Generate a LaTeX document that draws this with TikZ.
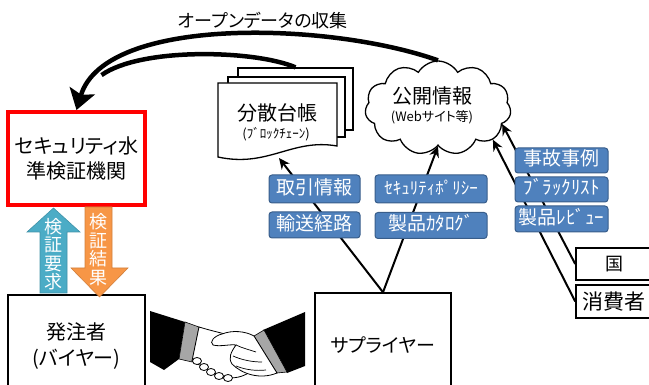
\documentclass[tikz,border=0pt]{standalone}
\usepackage{fontspec}
\setmainfont{Noto Sans CJK JP}[RawFeature=+palt]
\usetikzlibrary{shapes.symbols,arrows.meta}
\definecolor{boxblue}{HTML}{4F81BD}
\definecolor{boxedge}{HTML}{385D8A}
\definecolor{reqteal}{HTML}{4BACC6}
\definecolor{resorange}{HTML}{F79646}
\definecolor{cuffgray}{HTML}{A6A6A6}
\definecolor{alertred}{HTML}{FF0000}
\pgfdeclarelayer{background}
\pgfsetlayers{background,main}
\newcommand{\fs}[1]{\fontsize{#1}{#1}\selectfont}
\tikzset{
  tag/.style={draw=boxedge, fill=boxblue, line width=1pt, rounded corners=3pt,
    text=white, inner sep=0pt, text height=14pt, text depth=3pt, font=\fs{19}},
  plainbox/.style={draw=black, line width=1.5pt, fill=white, inner sep=0pt},
  sheet/.style={draw=black, line width=1.3pt, fill=white, inner sep=0pt},
  link/.style={line width=2pt, -{Stealth[length=11pt,width=10pt]}},
  bigarrow/.style={line width=4.5pt, -{Stealth[length=20pt,width=26pt,inset=4pt]}},
  label/.style={inner sep=0pt},
}
\begin{document}
\begin{tikzpicture}[x=1pt,y=-1pt]
\useasboundingbox (0,0) rectangle (649,385);

% title of the collection arrow
\node[label, font=\fs{18}] (title) at (263,21) {オープンデータの収集};

% verification body
\node[draw=alertred, line width=4pt, fill=white, minimum width=137pt, minimum height=93pt,
  align=center, font=\fs{20}, inner sep=0pt] (sec) at (76.5,158.5)
  {セキュリティ水\\[5pt]準検証機関};

% buyer and supplier
\node[plainbox, minimum width=137pt, minimum height=102pt, align=center, font=\fs{20}]
  (buyer) at (76.5,346) {発注者\\[6pt](バイヤー)};
\node[plainbox, minimum width=136pt, minimum height=104pt, font=\fs{19}]
  (supplier) at (383,345) {サプライヤー};

% state and consumer
\node[plainbox, minimum width=76pt, minimum height=32pt, font=\fs{18}] (country) at (614,264) {国};
\node[plainbox, minimum width=76pt, minimum height=33pt, font=\fs{21}] (consumer) at (614,301.5) {消費者};

% distributed ledger: stacked sheets
\node[sheet, minimum width=115pt, minimum height=62pt] (doc3) at (295.5,99) {};
\node[sheet, minimum width=117pt, minimum height=60pt] (doc2) at (286.5,107) {};
\filldraw[sheet] (218,83) -- (337,83) -- (337,146)
  .. controls (292,138) and (268,168) .. (218,157) -- cycle;
\node[label, font=\fs{20}] (ledger) at (277,113) {分散台帳};
\node[label, font=\fs{13}] (ledgersub) at (276,134) {(ﾌﾞﾛｯｸﾁｪｰﾝ)};
\coordinate (ledgerfoot) at (279,158);

% public information cloud
\node[cloud, draw=black, line width=1.3pt, fill=white, cloud puffs=11, cloud puff arc=120,
  aspect=1.55, minimum width=146pt, minimum height=94pt, inner sep=0pt] (cloud) at (438,108) {};
\node[label, font=\fs{20}] (cloudtitle) at (432,96) {公開情報};
\node[label, font=\fs{13}] (cloudsub) at (432,117) {(Webサイト等)};

% information tags
\node[tag, minimum width=91pt, minimum height=28pt] (trade) at (314.5,189) {取引情報};
\node[tag, minimum width=91pt, minimum height=26pt] (route) at (314.5,225) {輸送経路};
\node[tag, minimum width=112pt, minimum height=28pt, font=\fs{17}] (policy) at (431,189) {ｾｷｭﾘﾃｨﾎﾟﾘｼｰ};
\node[tag, minimum width=112pt, minimum height=26pt] (catalog) at (431,225.5) {製品ｶﾀﾛｸﾞ};
\node[tag, minimum width=93pt, minimum height=25pt] (accident) at (561.5,160.5) {事故事例};
\node[tag, minimum width=93pt, minimum height=25pt] (blacklist) at (561.5,189.5) {ﾌﾞﾗｯｸﾘｽﾄ};
\node[tag, minimum width=93pt, minimum height=26pt] (review) at (561.5,219) {製品ﾚﾋﾞｭｰ};

% connectors running behind the tags
\begin{pgfonlayer}{background}
  \draw[link] (supplier.north) -- (ledgerfoot);
  \draw[link] (supplier.north) -- (cloud.south);
  \draw[link] (consumer.west) -- (cloud.-30);
  \draw[link] (country.west) -- (cloud.-14);
\end{pgfonlayer}

% open data collection arrow
\draw[bigarrow] (cloud.north) .. controls (330,22) and (105,15) .. (sec.north);
\draw[line width=4.5pt] (doc3.north) .. controls (255,50) and (141,47) .. (101.5,75.1);

% request / result block arrows
\filldraw[fill=reqteal, draw=reqteal!85!black, line width=0.6pt]
  (53.5,208) -- (80,232) -- (67,232) -- (67,293) -- (40,293) -- (40,232) -- (27,232) -- cycle;
\filldraw[fill=resorange, draw=resorange!85!black, line width=0.6pt]
  (85,207) -- (112,207) -- (112,268) -- (128,268) -- (99.5,297) -- (71,268) -- (85,268) -- cycle;
\node[label, align=center, text=white, font=\fontsize{18}{18.5}\selectfont] (req) at (53.5,254) {検\\証\\要\\求};
\node[label, align=center, text=white, font=\fontsize{18}{18.5}\selectfont] (res) at (98.5,249.5) {検\\証\\結\\果};

% handshake
\fill[black] (150,311) -- (185,322) -- (179,359) -- (164,370) -- (150,362) -- cycle;
\filldraw[fill=cuffgray, draw=black, line width=0.6pt] (185,322) -- (199,327) -- (192,362) -- (179,359) -- cycle;
\filldraw[fill=white, draw=black, line width=0.8pt]
  (199,327) .. controls (212,331) and (226,334) .. (240,338) -- (250,372)
  .. controls (240,379) and (228,379) .. (220,376) -- (192,361) -- cycle;
\foreach \kx/\ky in {197/361, 204/367, 211/372, 219/376, 228/378}
  \filldraw[fill=white, draw=black, line width=0.8pt] (\kx,\ky) ellipse (4.5pt and 3.5pt);
\fill[black] (305,312) -- (263,330) -- (287,373) -- (305,366) -- cycle;
\filldraw[fill=cuffgray, draw=black, line width=0.6pt] (254,336) -- (264,330) -- (287,372) -- (277,373) -- cycle;
\filldraw[fill=white, draw=black, line width=0.8pt]
  (254,336) .. controls (245,331) and (232,330) .. (222,334)
  .. controls (214,336) and (209,342) .. (213,345)
  .. controls (220,347) and (230,344) .. (236,345)
  .. controls (231,352) and (228,358) .. (232,364)
  .. controls (242,374) and (260,380) .. (277,373) -- cycle;
\draw[line width=0.7pt] (236,345) .. controls (242,348) and (250,350) .. (256,352);
\draw[line width=0.7pt] (233,356) .. controls (242,360) and (252,362) .. (262,362);
\draw[line width=0.7pt] (236,366) .. controls (246,370) and (256,371) .. (266,370);
\end{tikzpicture}
\end{document}
